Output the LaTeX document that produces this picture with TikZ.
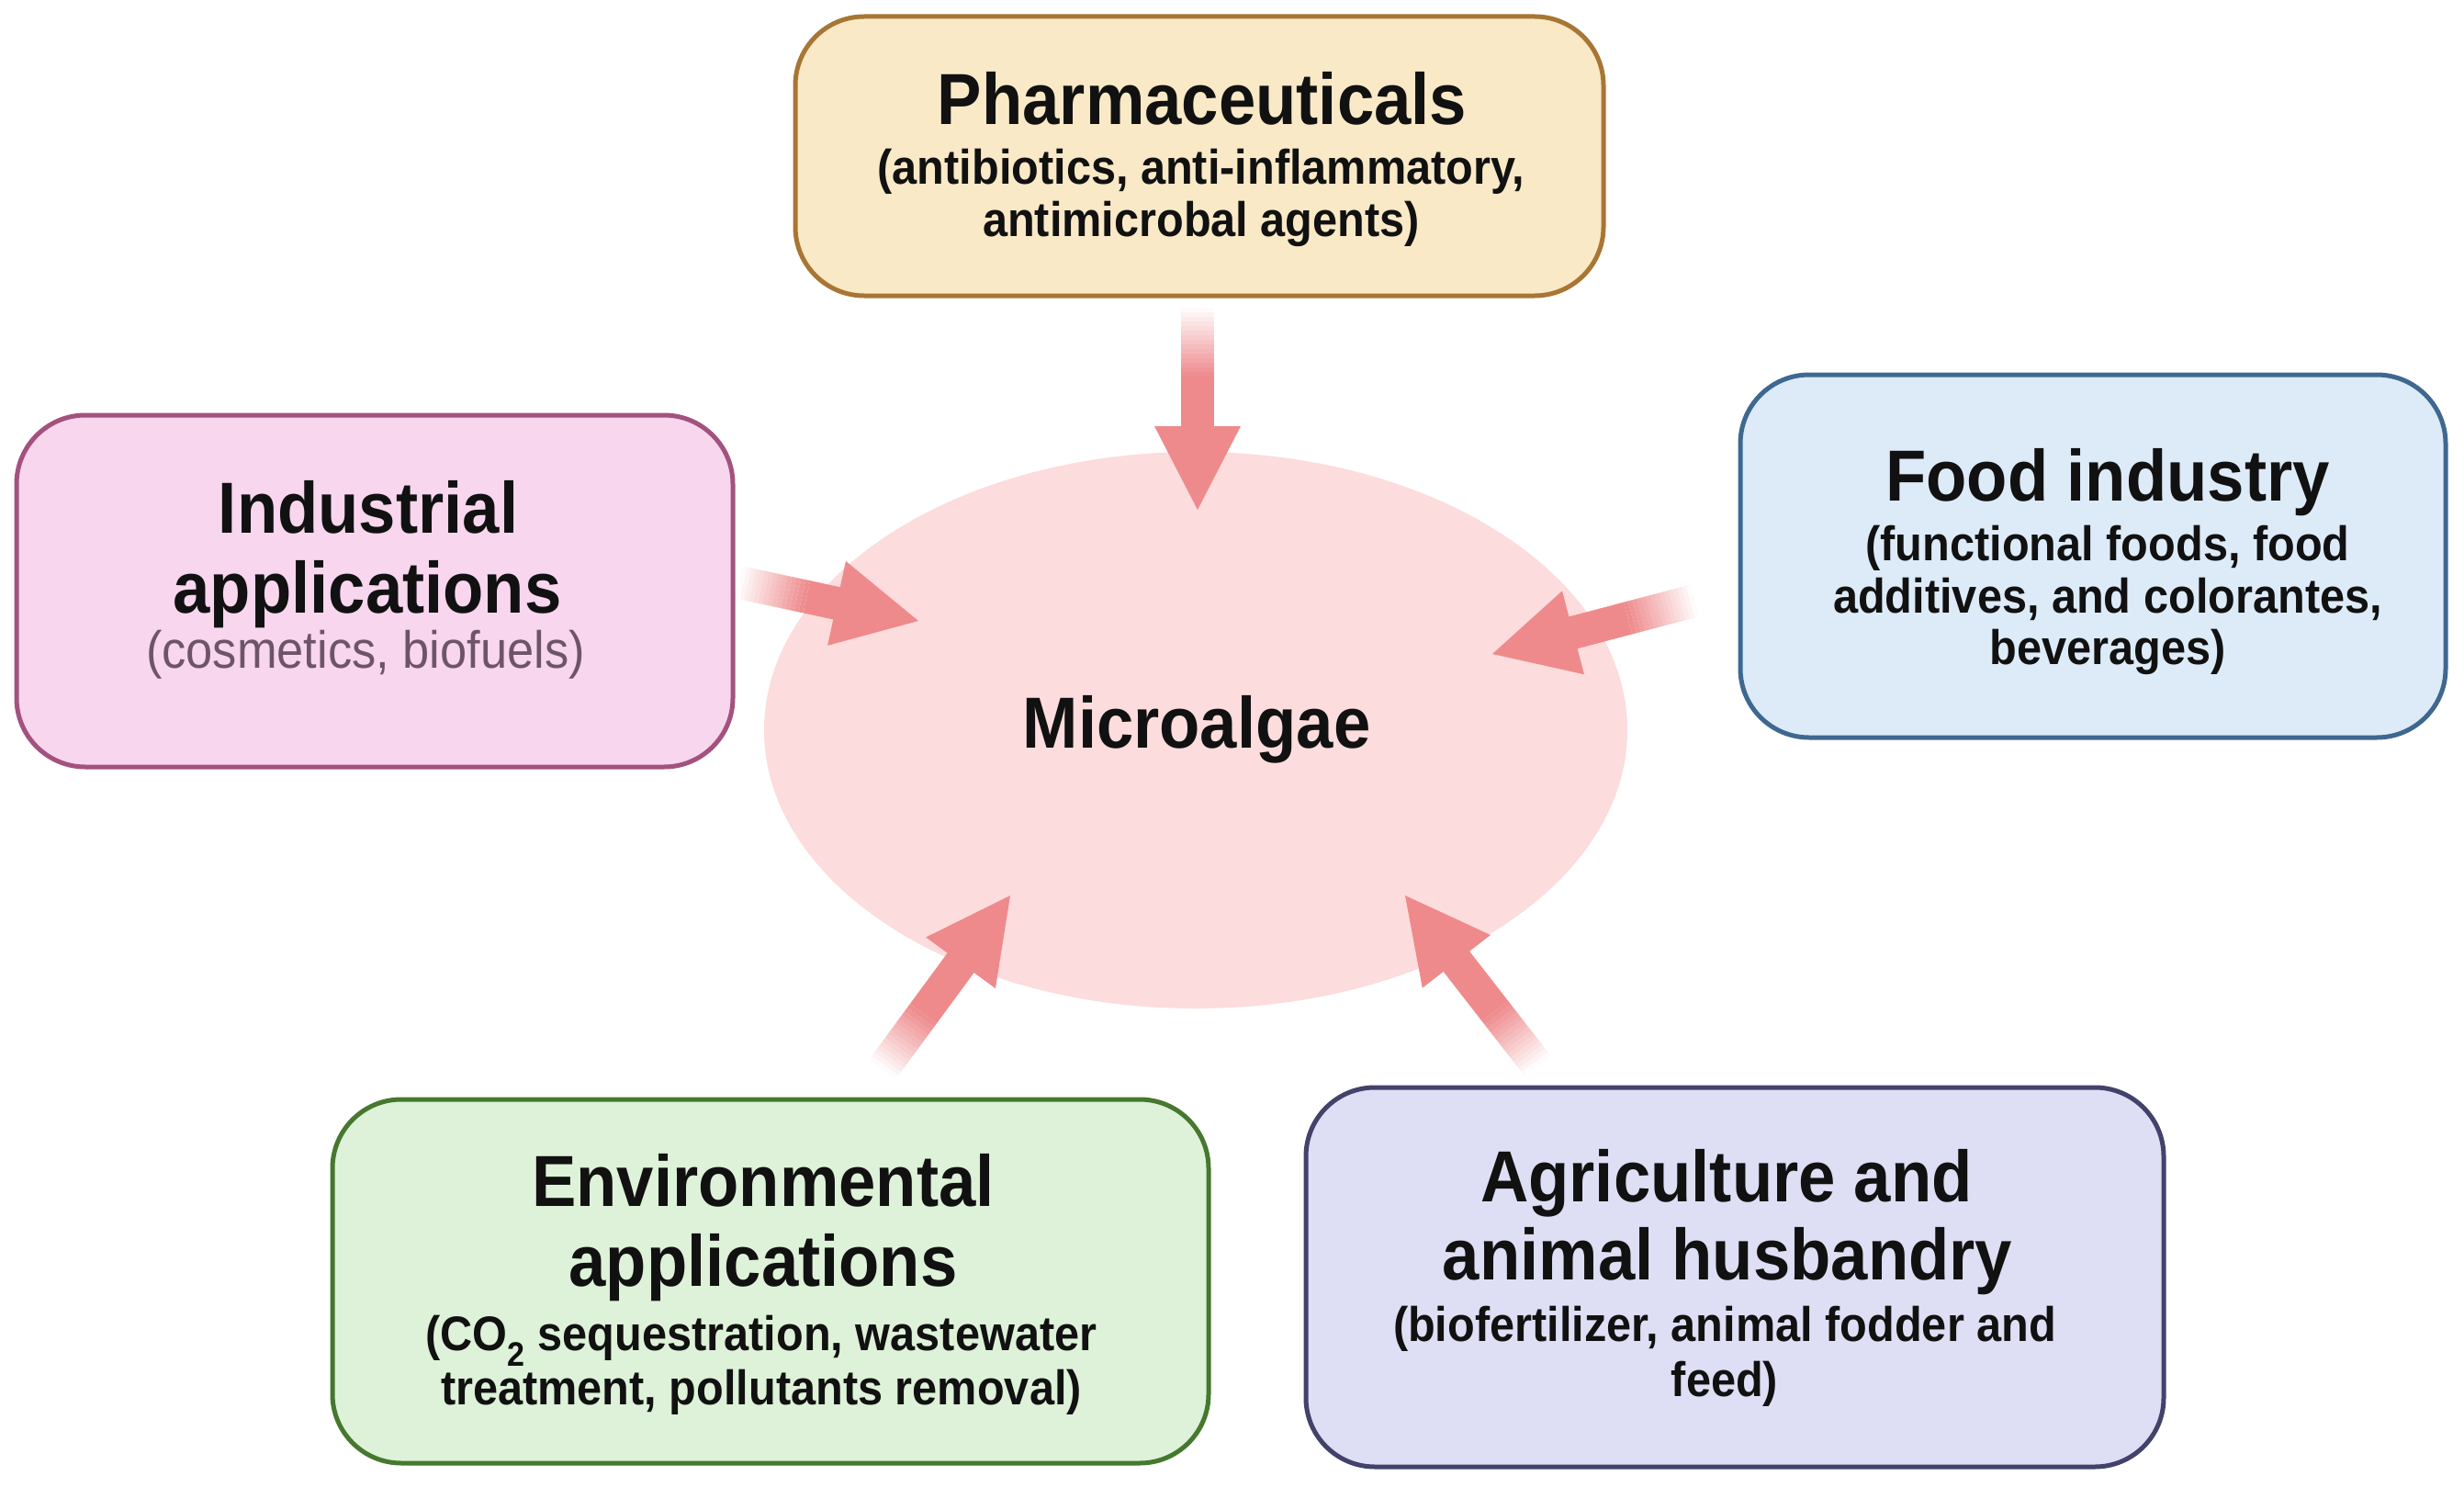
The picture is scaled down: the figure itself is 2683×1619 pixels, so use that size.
\documentclass[tikz,border=0pt]{standalone}
\usepackage{fontspec}
\setmainfont{Liberation Sans}[FakeStretch=0.92]
\usetikzlibrary{shapes.geometric,calc}
\definecolor{phfill}{HTML}{F9E9C6}\definecolor{phdraw}{HTML}{A87634}
\definecolor{infill}{HTML}{F8D6EE}\definecolor{indraw}{HTML}{A3527F}
\definecolor{fofill}{HTML}{DDEBF8}\definecolor{fodraw}{HTML}{3F6890}
\definecolor{enfill}{HTML}{DDF2D8}\definecolor{endraw}{HTML}{46782F}
\definecolor{agfill}{HTML}{DEDEF4}\definecolor{agdraw}{HTML}{43426B}
\definecolor{algfill}{HTML}{FCDCDC}
\definecolor{arrcol}{HTML}{EF8A8C}
\definecolor{insub}{HTML}{6E5468}
\definecolor{txt}{HTML}{111111}
\newcommand\myarrow[2]{%
  \coordinate (#1B) at ($(#2)!91pt!(#1)$);
  \coordinate (#1M) at ($(#1)!75pt!(#2)$);
  \fill[arrcol] (#2) -- ($(#1B)!47pt!90:(#2)$) -- ($(#1B)!47pt!-90:(#2)$) -- cycle;
  \draw[arrcol, line width=36pt] (#1M) -- ($(#1B)!3pt!(#2)$);
  \foreach \i in {0,...,14}{%
    \pgfmathsetmacro\fa{\i/15}\pgfmathsetmacro\fb{(\i+1)/15}\pgfmathsetmacro\op{(\i+0.5)/15}%
    \draw[arrcol, line width=36pt, draw opacity=\op] ($(#1)!\fa!(#1M)$) -- ($(#1)!\fb!(#1M)$);
  }%
}
\tikzset{
  box/.style={rectangle, rounded corners=75pt, line width=5pt, inner sep=0},
  ttl/.style={anchor=base, inner sep=0, text=txt, font=\fontsize{78.8}{90}\selectfont\bfseries},
  sub/.style={anchor=base, inner sep=0, text=txt, text height=0.74em, text depth=0.16em, font=\fontsize{52.9}{60}\selectfont\bfseries},
}
\begin{document}
\begin{tikzpicture}[x=1pt,y=-1pt]
\useasboundingbox (0,0) rectangle (2683,1619);
\fill[white] (0,0) rectangle (2683,1619);
% central ellipse
\node[ellipse, fill=algfill, minimum width=940pt, minimum height=606pt, inner sep=0] (alg) at (1302,795) {};
\node[ttl] (algT) at (1303,814) {Microalgae};
% boxes
\node[box, fill=phfill, draw=phdraw, minimum width=880pt, minimum height=304pt] (pharm) at (1306,170) {};
\node[box, fill=infill, draw=indraw, minimum width=780pt, minimum height=383pt] (ind) at (408,643.5) {};
\node[box, fill=fofill, draw=fodraw, minimum width=768pt, minimum height=395pt] (food) at (2279,605.5) {};
\node[box, fill=enfill, draw=endraw, minimum width=954pt, minimum height=396pt] (env) at (839,1395) {};
\node[box, fill=agfill, draw=agdraw, minimum width=934pt, minimum height=413pt] (agri) at (1889,1390.5) {};
% texts
\node[ttl] (pharmT) at (1309,135) {Pharmaceuticals};
\node[sub] (pharmS1) at (1308,200) {(antibiotics, anti-inflammatory,};
\node[sub] (pharmS2) at (1308,257) {antimicrobal agents)};
\node[ttl] (indT1) at (401,580) {Industrial};
\node[ttl] (indT2) at (400,667) {applications};
\node[sub, text=insub, font=\fontsize{57}{64}\selectfont] (indS) at (398,727) {(cosmetics, biofuels)};
\node[ttl] (foodT) at (2295,545) {Food industry};
\node[sub] (foodS1) at (2295,610) {(functional foods, food};
\node[sub] (foodS2) at (2295,667) {additives, and colorantes,};
\node[sub] (foodS3) at (2295,723) {beverages)};
\node[ttl] (envT1) at (831,1313) {Environmental};
\node[ttl] (envT2) at (831,1400) {applications};
\node[sub] (envS1) at (829,1470) {(CO\textsubscript{2} sequestration, wastewater};
\node[sub] (envS2) at (829,1529) {treatment, pollutants removal)};
\node[ttl] (agriT1) at (1880,1308) {Agriculture and};
\node[ttl] (agriT2) at (1881,1393) {animal husbandry};
\node[sub] (agriS1) at (1878,1460) {(biofertilizer, animal fodder and};
\node[sub] (agriS2) at (1878,1520) {feed)};
% arrow coordinates
\coordinate (pS) at (1304,335); \coordinate (pT) at (1304,555);
\coordinate (iS) at (805,634);  \coordinate (iT) at (1000,676);
\coordinate (fS) at (1845,654); \coordinate (fT) at (1625,712);
\coordinate (eS) at (961,1164); \coordinate (eT) at (1100,975);
\coordinate (aS) at (1674,1160);\coordinate (aT) at (1530,975);
\myarrow{pS}{pT}
\myarrow{iS}{iT}
\myarrow{fS}{fT}
\myarrow{eS}{eT}
\myarrow{aS}{aT}
\end{tikzpicture}
\end{document}
